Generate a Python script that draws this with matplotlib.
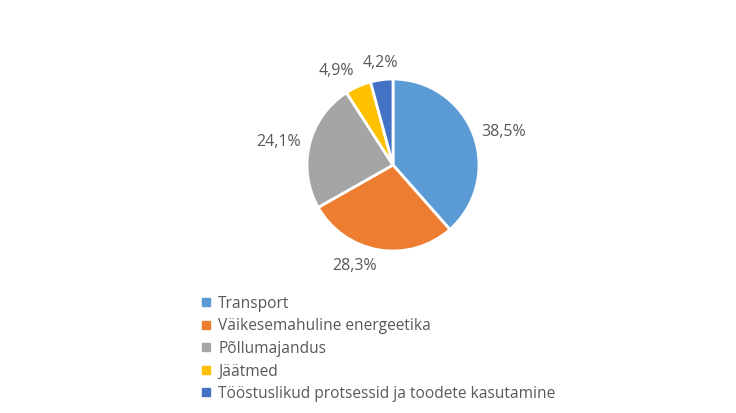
import numpy as np
import matplotlib.pyplot as plt
from matplotlib.lines import Line2D

plt.rcParams["font.family"] = ["Open Sans", "DejaVu Sans"]

categories = [
    "Transport",
    "Väikesemahuline energeetika",
    "Põllumajandus",
    "Jäätmed",
    "Tööstuslikud protsessid ja toodete kasutamine",
]
shares = [38.5, 28.3, 24.1, 4.9, 4.2]
colors = ["#5B9BD5", "#ED7D31", "#A5A5A5", "#FFC000", "#4472C4"]
text_color = "#595959"

W, H = 736, 413
fig = plt.figure(figsize=(W / 100, H / 100), dpi=100)

# pie axes, centre ~ (393,165) px, radius ~86 px
cx, cy, r = 393, 165, 86
ax = fig.add_axes([(cx - r) / W, 1 - (cy + r) / H, 2 * r / W, 2 * r / H])
wedges, _ = ax.pie(
    shares,
    colors=colors,
    startangle=90,
    counterclock=False,
    wedgeprops=dict(edgecolor="white", linewidth=2),
)
ax.set_xlim(-1, 1)
ax.set_ylim(-1, 1)

# outside-end labels, anchored on the side facing the wedge
for w, s in zip(wedges, shares):
    ang = np.deg2rad((w.theta1 + w.theta2) / 2)
    x, y = np.cos(ang), np.sin(ang)
    ha = "center" if abs(x) < 0.15 else ("left" if x > 0 else "right")
    va = "bottom" if y > 0.5 else ("top" if y < -0.5 else "center")
    ax.text(
        1.1 * x, 1.1 * y, f"{s:.1f}%".replace(".", ","),
        ha=ha, va=va, fontsize=11.5, color=text_color, clip_on=False,
    )

handles = [Line2D([], [], marker="s", linestyle="none", markersize=5.5,
                  markerfacecolor=c, markeredgecolor=c) for c in colors]
fig.legend(
    handles, categories, loc="upper left",
    bbox_to_anchor=(194 / W, 1 - 288 / H),
    frameon=False, fontsize=11.2, labelcolor=text_color,
    handlelength=0.6, handletextpad=0.45, labelspacing=0.42, borderpad=0,
)

fig.savefig("out.png", dpi=100)
